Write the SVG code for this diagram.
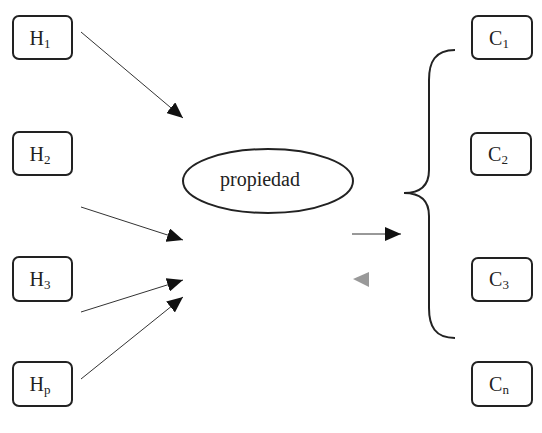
<svg xmlns="http://www.w3.org/2000/svg" width="542" height="433" viewBox="0 0 542 433">
<style>
.box{fill:#fff;stroke:#222;stroke-width:2}
.lbl{font-family:"Liberation Serif",serif;font-size:20px;fill:#222;text-anchor:middle}
.sub{font-size:13px}
.conn{stroke:#333;stroke-width:1;fill:none}
</style>
<defs>
<marker id="ah" markerUnits="userSpaceOnUse" markerWidth="18" markerHeight="14" refX="16" refY="7" orient="auto">
<path d="M0,0 L16,7 L0,14 Z" fill="#111"/>
</marker>
</defs>
<rect width="542" height="433" fill="#fff"/>
<g id="H1"><rect class="box" x="13" y="16" width="59" height="43" rx="6"/><text class="lbl" x="40" y="45">H<tspan class="sub" dy="3">1</tspan></text></g>
<g id="H2"><rect class="box" x="13" y="132" width="59" height="43" rx="6"/><text class="lbl" x="40" y="161">H<tspan class="sub" dy="3">2</tspan></text></g>
<g id="H3"><rect class="box" x="13" y="257" width="59" height="44" rx="6"/><text class="lbl" x="40" y="286">H<tspan class="sub" dy="3">3</tspan></text></g>
<g id="Hp"><rect class="box" x="13" y="362" width="59" height="44" rx="6"/><text class="lbl" x="40" y="391">H<tspan class="sub" dy="3">p</tspan></text></g>
<g id="C1"><rect class="box" x="472" y="16" width="60" height="43" rx="6"/><text class="lbl" x="499" y="45">C<tspan class="sub" dy="3">1</tspan></text></g>
<g id="C2"><rect class="box" x="471" y="133" width="60" height="42" rx="6"/><text class="lbl" x="498" y="161">C<tspan class="sub" dy="3">2</tspan></text></g>
<g id="C3"><rect class="box" x="472" y="258" width="60" height="43" rx="6"/><text class="lbl" x="499" y="286">C<tspan class="sub" dy="3">3</tspan></text></g>
<g id="Cn"><rect class="box" x="472" y="362" width="60" height="44" rx="6"/><text class="lbl" x="499" y="391">C<tspan class="sub" dy="3">n</tspan></text></g>
<g id="propiedad"><ellipse cx="268" cy="181" rx="85" ry="32" fill="#fff" stroke="#222" stroke-width="2"/><text class="lbl" x="260" y="186">propiedad</text></g>
<g id="brace"><path d="M455,50 C435,50 429,62 429,80 L429,170 C429,186 420,193 404,193 C420,193 429,200 429,216 L429,308 C429,326 435,338 455,338" fill="none" stroke="#222" stroke-width="2"/></g>
<g id="connectors">
<line class="conn" x1="81" y1="32" x2="183" y2="118" marker-end="url(#ah)"/>
<line class="conn" x1="81" y1="207" x2="183" y2="240" marker-end="url(#ah)"/>
<line class="conn" x1="81" y1="312" x2="183" y2="280" marker-end="url(#ah)"/>
<line class="conn" x1="81" y1="379" x2="183" y2="297" marker-end="url(#ah)"/>
<line class="conn" x1="352" y1="234" x2="401" y2="234" marker-end="url(#ah)"/>
<path d="M353,279 L369,272 L369,287 Z" fill="#999"/>
</g>
</svg>
